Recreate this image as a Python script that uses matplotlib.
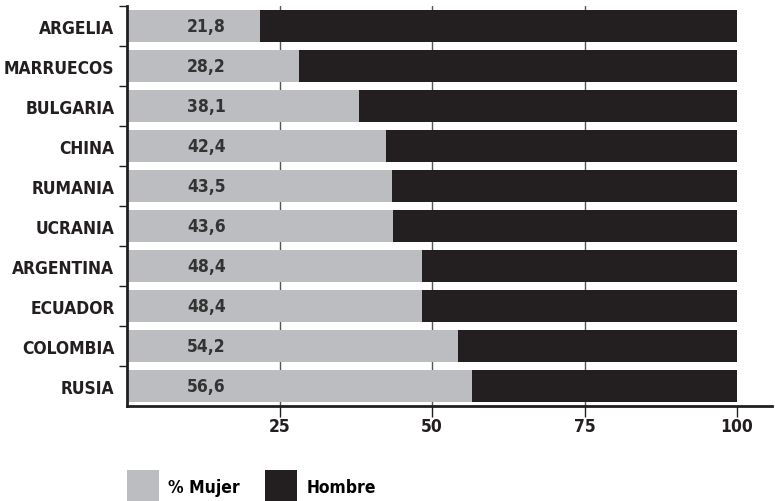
import numpy as np
import matplotlib
matplotlib.use("Agg")
import matplotlib.pyplot as plt
from matplotlib.patches import Patch

plt.rcParams['font.family'] = ['DejaVu Sans']
plt.rcParams['font.stretch'] = 'condensed'

paises = ["ARGELIA", "MARRUECOS", "BULGARIA", "CHINA", "RUMANIA",
          "UCRANIA", "ARGENTINA", "ECUADOR", "COLOMBIA", "RUSIA"]
mujer = [21.8, 28.2, 38.1, 42.4, 43.5, 43.6, 48.4, 48.4, 54.2, 56.6]
total = 100
ticks_x = [25, 50, 75, 100]

gris = "#bcbdc0"
negro = "#231f20"
fs = 12.5

hombre = [total - m for m in mujer]
y = np.arange(len(paises))

fig = plt.figure(figsize=(7.75, 5.02), dpi=100)
ax = fig.add_axes([127/775, 1 - 407/502, (772-127)/775, 400/502])

ax.barh(y, mujer, height=0.8, color=gris, zorder=2)
ax.barh(y, hombre, left=mujer, height=0.8, color=negro, zorder=2)

for i, v in enumerate(mujer):
    ax.text(13, i, f"{v:.1f}".replace(".", ","), ha="center", va="center",
            fontsize=fs, fontweight="bold", color="#333333", zorder=3)

for t in ticks_x[:-1]:
    ax.axvline(t, color="#555555", lw=1, zorder=1)

ax.set_xlim(0, (772-127)/6.1)
ax.set_ylim(len(paises) - 0.5, -0.5)
ax.set_xticks(ticks_x)
ax.set_xticklabels([str(t) for t in ticks_x], fontsize=fs, fontweight="bold", color=negro)
ax.tick_params(axis="x", direction="out", length=8, width=1, color=negro, pad=0)

ax.set_yticks(y)
ax.set_yticklabels(paises, fontsize=fs, fontweight="bold", color=negro)
ax.set_yticks(np.arange(-0.5, len(paises) - 1, 1), minor=True)
ax.tick_params(axis="y", which="major", length=0, pad=9)
ax.tick_params(axis="y", which="minor", direction="out", length=6, width=1, color=negro)

for s in ["top", "right"]:
    ax.spines[s].set_visible(False)
for s in ["left", "bottom"]:
    ax.spines[s].set_linewidth(2)
    ax.spines[s].set_color(negro)

handles = [Patch(facecolor=gris, label="% Mujer"), Patch(facecolor=negro, label="Hombre")]
fig.legend(handles=handles, loc="lower left", bbox_to_anchor=(118/775, -10/502), ncol=2,
           frameon=False, prop={"size": fs, "weight": "bold"}, borderpad=0,
           handlelength=1.85, handleheight=2.45, handletextpad=0.55, columnspacing=1.42)

fig.savefig("out.png", dpi=100)
